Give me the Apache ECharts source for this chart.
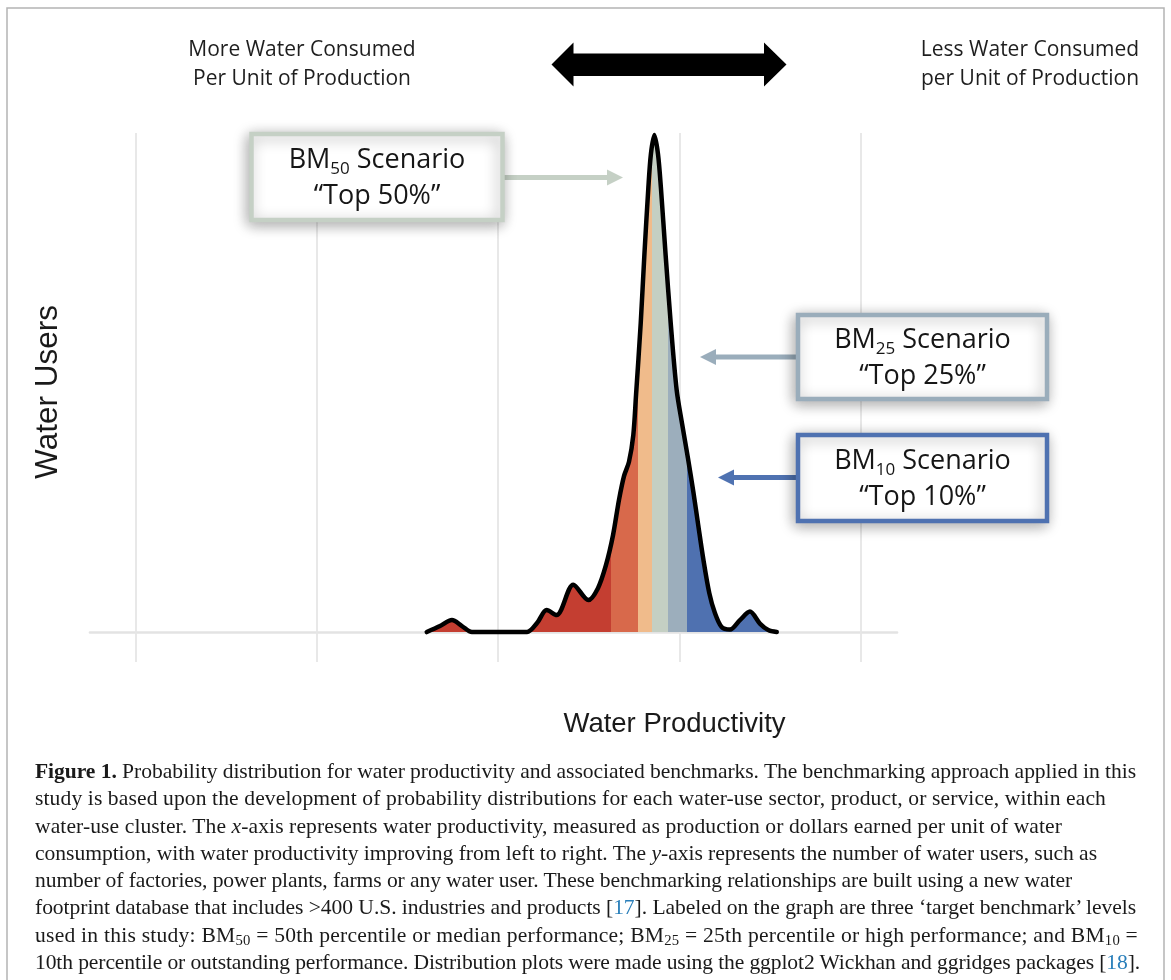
<!DOCTYPE html>
<html><head><meta charset="utf-8">
<script src="https://cdn.jsdelivr.net/npm/echarts@6/dist/echarts.min.js"></script>
<style>
html,body{margin:0;padding:0;background:#fff;}
#chart{width:1171px;height:980px;position:absolute;left:0;top:0;}
#caption{position:absolute;left:35px;top:758px;font-family:"Liberation Serif","Times New Roman",serif;color:#1a1a1a;white-space:nowrap;font-size:20px;}
#caption div{height:27.3px;line-height:27.3px;}
#caption span.ln{display:inline-block;}
.ref{color:#2a7fba;}
sub{font-size:0.68em;vertical-align:-0.22em;line-height:0;}
</style></head><body>
<div id="chart"></div>
<div id="caption"></div>
<script>
// ---- data ----
const productivity = [2.607,2.680,2.746,2.801,2.856,3.011,3.160,3.215,3.268,3.323,3.415,3.498,3.551,3.595,3.634,3.667,3.695,3.722,3.746,3.761,3.787,3.807,3.829,3.843,3.862,3.882,3.898,3.924,3.952,3.985,4.015,4.047,4.077,4.104,4.132,4.165,4.196,4.233,4.279,4.334,4.389,4.444,4.490,4.537];
const waterUsers   = [0,0.012,0.024,0.012,0,0,0,0.018,0.044,0.034,0.095,0.064,0.088,0.134,0.194,0.265,0.313,0.341,0.395,0.475,0.620,0.756,0.891,0.958,0.996,0.958,0.891,0.756,0.620,0.485,0.417,0.349,0.281,0.214,0.146,0.078,0.038,0.010,0.005,0.024,0.041,0.017,0.004,0];
const bandEdges  = [3.621,3.770,3.851,3.939,4.040];
const bandColors = ['#c43e31','#d8694b','#f0bb8b','#c4cfc3','#9caebc','#4f71b0'];
const gridTicks  = [1,2,3,4,5];
const scenarioNames = ['50','25','10'];
const scenarioTops  = ['“Top 50%”','“Top 25%”','“Top 10%”'];
const scenarioColors = ['#c5d0c5','#9aadbb','#4f72b1'];

const captionLines = [
 '<b>Figure 1.</b> Probability distribution for water productivity and associated benchmarks. The benchmarking approach applied in this',
 'study is based upon the development of probability distributions for each water-use sector, product, or service, within each',
 'water-use cluster. The <i>x</i>-axis represents water productivity, measured as production or dollars earned per unit of water',
 'consumption, with water productivity improving from left to right. The <i>y</i>-axis represents the number of water users, such as',
 'number of factories, power plants, farms or any water user. These benchmarking relationships are built using a new water',
 'footprint database that includes &gt;400 U.S. industries and products [<span class="ref">17</span>]. Labeled on the graph are three ‘target benchmark’ levels',
 'used in this study: BM<sub>50</sub> = 50th percentile or median performance; BM<sub>25</sub> = 25th percentile or high performance; and BM<sub>10</sub> =',
 '10th percentile or outstanding performance. Distribution plots were made using the ggplot2 Wickhan and ggridges packages [<span class="ref">18</span>].'
];
const captionWidths = [1101,1071,1027,1062,1037,1101,1103,1105];

// ---- caption ----
const cap = document.getElementById('caption');
cap.innerHTML = captionLines.map(l => '<div><span class="ln">' + l + '</span></div>').join('');
const spans = Array.from(cap.querySelectorAll('span.ln'));
let meas = spans.reduce((s, e) => s + e.getBoundingClientRect().width, 0);
let tgt = captionWidths.reduce((s, v) => s + v, 0);
cap.style.fontSize = (20 * tgt / meas).toFixed(3) + 'px';
spans.forEach((e, i) => {
  const w = e.getBoundingClientRect().width;
  const n = e.textContent.length;
  e.style.letterSpacing = ((captionWidths[i] - w) / n).toFixed(4) + 'px';
});

// ---- chart ----
const chart = echarts.init(document.getElementById('chart'));
const curve = productivity.map((x, i) => [x, waterUsers[i]]);
const pieces = bandColors.map((c, i) => {
  const p = {color: c};
  if (i > 0) p.gte = bandEdges[i - 1];
  if (i < bandEdges.length) p.lt = bandEdges[i];
  return p;
});

const graphics = [];
// frame
graphics.push({type:'rect', z:1, shape:{x:7, y:8, width:1157, height:1000}, style:{fill:'none', stroke:'#b4b4b4', lineWidth:1.5}});
// top texts
graphics.push({type:'text', x:302, y:64.5, style:{text:'More Water Consumed\nPer Unit of Production', fontFamily:'Open Sans', fontSize:21, lineHeight:29, fill:'#1e1e1e', align:'center', verticalAlign:'middle', textAlign:'center', textVerticalAlign:'middle'}});
graphics.push({type:'text', x:1030, y:64.5, style:{text:'Less Water Consumed\nper Unit of Production', fontFamily:'Open Sans', fontSize:21, lineHeight:29, fill:'#1e1e1e', align:'center', verticalAlign:'middle', textAlign:'center', textVerticalAlign:'middle'}});
// double arrow
graphics.push({type:'polygon', shape:{points:[[551.5,64.5],[573.5,42.5],[573.5,53.5],[764,53.5],[764,42.5],[786.5,64.5],[764,86.5],[764,76],[573.5,76],[573.5,86.5]]}, style:{fill:'#000'}});
// axis titles
graphics.push({type:'text', x:48, y:392, rotation:Math.PI/2, style:{text:'Water Users', fontFamily:'Liberation Sans', fontSize:31.5, fill:'#1a1a1a', align:'center', verticalAlign:'middle', textAlign:'center', textVerticalAlign:'middle'}});
graphics.push({type:'text', x:674.5, y:724, style:{text:'Water Productivity', fontFamily:'Liberation Sans', fontSize:27.5, fill:'#1a1a1a', align:'center', verticalAlign:'middle', textAlign:'center', textVerticalAlign:'middle'}});

// scenario boxes & arrows
const boxes = [
  {x:251.5, y:134, w:251, h:86, side:'right', ay:177.5, tip:623, base:607},
  {x:798, y:315, w:249, h:84, side:'left', ay:357, tip:700, base:716},
  {x:798, y:435, w:249, h:86, side:'left', ay:477.5, tip:718, base:734}
];
boxes.forEach((b, i) => {
  const col = scenarioColors[i];
  const startX = b.side === 'right' ? b.x + b.w : b.x;
  graphics.push({type:'line', z:5, shape:{x1:startX, y1:b.ay, x2:b.base, y2:b.ay}, style:{stroke:col, lineWidth:5}});
  graphics.push({type:'polygon', z:5, shape:{points:[[b.tip,b.ay],[b.base,b.ay-8],[b.base,b.ay+8]]}, style:{fill:col}});
  graphics.push({type:'rect', z:6, shape:{x:b.x, y:b.y, width:b.w, height:b.h}, style:{fill:'#fff', stroke:col, lineWidth:4.5, shadowBlur:14, shadowColor:'rgba(0,0,0,0.32)', shadowOffsetX:-2, shadowOffsetY:3}});
  graphics.push({type:'text', z:7, x:b.x + b.w/2, y:b.y + b.h/2 + 1, style:{
    text:'{a|BM}{s|' + scenarioNames[i] + '}{a| Scenario}\n{a|' + scenarioTops[i] + '}',
    align:'center', verticalAlign:'middle', textAlign:'center', textVerticalAlign:'middle',
    rich:{a:{fontFamily:'Open Sans', fontSize:27, lineHeight:36, fill:'#161616', color:'#161616'},
          s:{fontFamily:'Open Sans', fontSize:17, lineHeight:20, verticalAlign:'bottom', fill:'#161616', color:'#161616'}}
  }});
});

const option = {
  animation:false,
  grid:{left:90, right:274, top:133, bottom:318, containLabel:false, outerBoundsMode:'none'},
  xAxis:{type:'value', min:0.75, max:5.2, z:0,
    axisLine:{show:true, onZero:true, lineStyle:{color:'#e3e3e3', width:2.6}},
    axisTick:{show:false}, axisLabel:{show:false}, splitLine:{show:false}},
  yAxis:{type:'value', min:-0.06, max:1.0,
    axisLine:{show:false}, axisTick:{show:false}, axisLabel:{show:false}, splitLine:{show:false}},
  visualMap:{type:'piecewise', show:false, dimension:0, seriesIndex:1, pieces:pieces},
  series:[
    {type:'line', data:[], z:1, silent:true,
     markLine:{silent:true, z:1, symbol:['none','none'], label:{show:false},
       lineStyle:{color:'#e6e6e6', width:1.8, type:'solid'},
       data:gridTicks.map(v => ({xAxis:v}))}},
    {type:'line', data:curve, smooth:0.3, symbol:'none', z:10, silent:true,
     lineStyle:{width:0, opacity:0}, areaStyle:{opacity:1}},
    {type:'line', data:curve, smooth:0.3, symbol:'none', z:11, silent:true,
     lineStyle:{color:'#000', width:4.5, cap:'round', join:'round'}}
  ],
  graphic:{elements:graphics}
};
chart.setOption(option);
</script>
</body></html>
